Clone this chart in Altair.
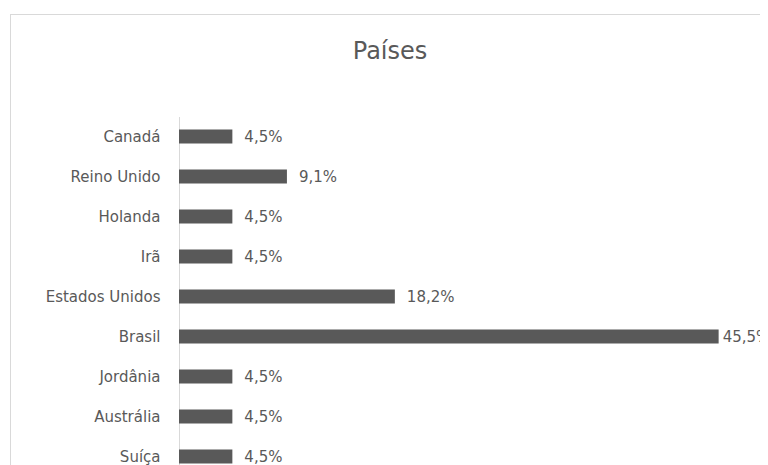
import altair as alt
import pandas as pd

paises = ["Canadá", "Reino Unido", "Holanda", "Irã", "Estados Unidos",
          "Brasil", "Jordânia", "Austrália", "Suíça"]
percentuais = [4.5, 9.1, 4.5, 4.5, 18.2, 45.5, 4.5, 4.5, 4.5]
titulo = "Países"

df = pd.DataFrame({"pais": paises, "pct": percentuais})
df["rotulo"] = [f"{v:.1f}".replace(".", ",") + "%" for v in percentuais]

FONT = "DejaVu Sans"
GRAY = "#595959"
LIGHT = "#d9d9d9"
W, H = 750, 470

y = alt.Y(
    "pais:N",
    sort=paises,
    scale=alt.Scale(range=[102.5, 462.5], paddingInner=0, paddingOuter=0),
    axis=alt.Axis(title=None, offset=-169, domain=True, domainColor=LIGHT,
                  ticks=False, labelPadding=19, labelFont=FONT,
                  labelFontSize=15, labelColor=GRAY, grid=False),
)
x = alt.X("pct:Q", scale=alt.Scale(domain=[0, 50], range=[169, 762], nice=False),
          axis=None)

base = alt.Chart(df)
bars = base.mark_bar(size=14, color=GRAY).encode(x=x, y=y)
labels = base.transform_filter("datum.pct < 40").mark_text(
    align="left", baseline="middle", dx=12, font=FONT, fontSize=15, color=GRAY
).encode(x=x, y=y, text="rotulo:N")
# the longest bar's label sits closer to the bar end, as in the original
label_max = base.transform_filter("datum.pct >= 40").mark_text(
    align="left", baseline="middle", dx=4, font=FONT, fontSize=15, color=GRAY
).encode(x=x, y=y, text="rotulo:N")

# chart frame: top and left edges (right/bottom fall outside the window)
frame_top = alt.Chart(df).mark_rule(color=LIGHT, strokeWidth=1).encode(
    x=alt.value(0), x2=alt.value(W), y=alt.value(0.5))
frame_left = alt.Chart(df).mark_rule(color=LIGHT, strokeWidth=1).encode(
    x=alt.value(0.5), y=alt.value(0), y2=alt.value(H))

chart = alt.layer(frame_top, frame_left, bars, labels, label_max).properties(
    width=W,
    height=H,
    title=alt.Title(titulo, font=FONT, fontSize=24, fontWeight="normal",
                    color=GRAY, anchor="middle", offset=-69,
                    baseline="alphabetic", dx=5),
    autosize=alt.AutoSizeParams(type="none"),
    padding={"left": 2, "top": 6, "right": 0, "bottom": 0},
).configure_view(stroke=None)

chart.save("out.html", embed_options={"renderer": "svg", "actions": False})
